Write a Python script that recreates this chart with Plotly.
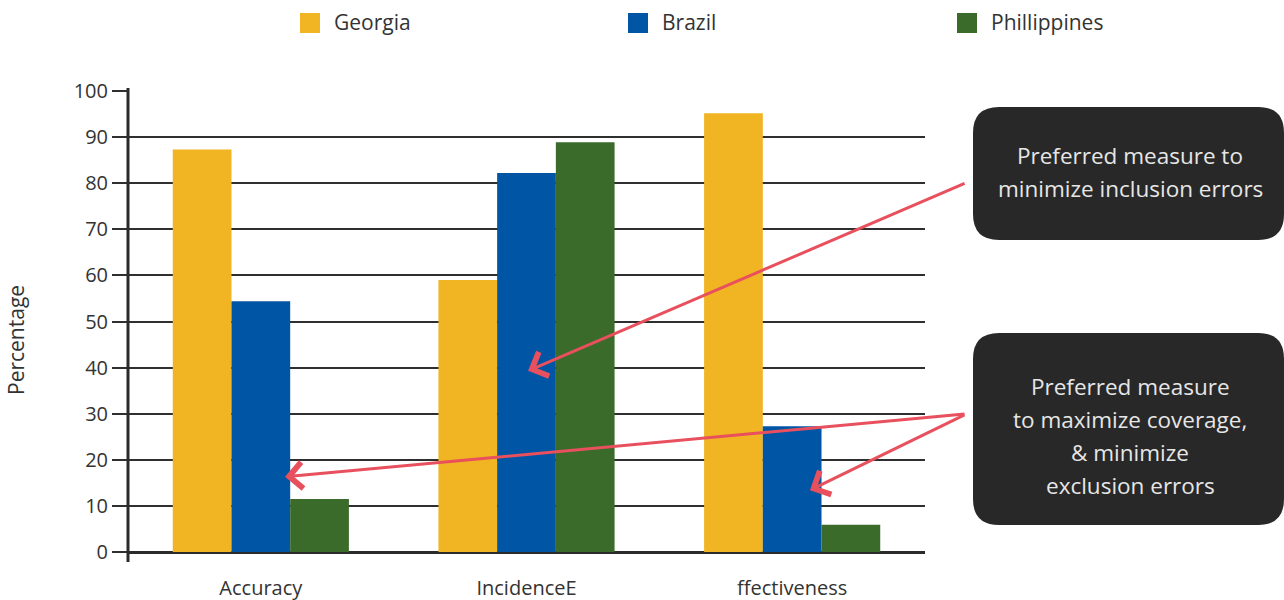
import plotly.graph_objects as go

# Survey results by targeting measure
categories = ["Accuracy", "IncidenceE", "ffectiveness"]
georgia = [87.3, 59.0, 95.2]
brazil = [54.4, 82.2, 27.3]
phillippines = [11.5, 88.9, 5.9]

series_names = ["Georgia", "Brazil", "Phillippines"]
series_colors = ["#F1B422", "#0055A4", "#3A6B2A"]
y_ticks = [0, 10, 20, 30, 40, 50, 60, 70, 80, 90, 100]

W, H = 1284, 600
L, R, T, B = 128, 359, 91, 48
PW, PH = W - L - R, H - T - B
FONT = "'Open Sans', 'Noto Sans', sans-serif"
TEXT = "#333333"


def px(x):
    return (x - L) / PW


def py(y):
    return (H - B - y) / PH


fig = go.Figure()
for name, vals, col in zip(series_names, [georgia, brazil, phillippines], series_colors):
    fig.add_trace(go.Bar(name=name, x=categories, y=vals, marker=dict(color=col, line=dict(width=0)),
                         showlegend=False))

shapes = []
annotations = []

# Legend built from squares and labels
legend_x = [300, 628, 957]
for name, col, lx in zip(series_names, series_colors, legend_x):
    shapes.append(dict(type="rect", xref="paper", yref="paper", x0=px(lx), x1=px(lx + 20),
                       y0=py(33), y1=py(13), fillcolor=col, line=dict(width=0)))
    annotations.append(dict(xref="paper", yref="paper", x=px(lx + 32), y=py(22), text=name,
                            showarrow=False, xanchor="left", yanchor="middle",
                            font=dict(family=FONT, size=21, color=TEXT)))

# Y-axis title
annotations.append(dict(xref="paper", yref="paper", x=px(16), y=py(340), text="Percentage",
                        textangle=-90, showarrow=False, xanchor="center", yanchor="middle",
                        font=dict(family=FONT, size=21, color=TEXT)))

# Vertical axis line extending slightly past the plot area
shapes.append(dict(type="line", xref="paper", yref="paper", x0=0, x1=0, y0=py(562), y1=py(88),
                   line=dict(color="#2b2b2b", width=3)))


def rounded_box(x0, y0, x1, y1, r):
    rx, ry = r / PW, r / PH
    a, b, c, d = px(x0), px(x1), py(y1), py(y0)  # left, right, bottom, top
    return (f"M{a + rx},{d} L{b - rx},{d} Q{b},{d} {b},{d - ry} L{b},{c + ry} Q{b},{c} {b - rx},{c} "
            f"L{a + rx},{c} Q{a},{c} {a},{c + ry} L{a},{d - ry} Q{a},{d} {a + rx},{d} Z")


box_fill = "#282828"
shapes.append(dict(type="path", xref="paper", yref="paper", path=rounded_box(973, 107, 1284, 240, 26),
                   fillcolor=box_fill, line=dict(width=0)))
shapes.append(dict(type="path", xref="paper", yref="paper", path=rounded_box(973, 333, 1284, 525, 26),
                   fillcolor=box_fill, line=dict(width=0)))

# Call-out text, one line per annotation so the line spacing is controlled
box_lines = [
    ("Preferred measure to", 155),
    ("minimize inclusion errors", 188),
    ("Preferred measure", 386),
    ("to maximize coverage,", 419),
    ("&amp; minimize", 452),
    ("exclusion errors", 485),
]
for txt, ly in box_lines:
    annotations.append(dict(xref="paper", yref="paper", x=px(1130), y=py(ly), text=txt,
                            showarrow=False, xanchor="center", yanchor="middle",
                            font=dict(family=FONT, size=22.5, color="#E6E6E6")))

# Arrows from the call-out boxes into the chart (tip in data units, tail offset in px)
arrow_col = "#E8505E"
arrows = [
    (1.006, 39.3, 438, -188),
    (0.091, 16.3, 681, -63),
    (2.067, 13.4, 156, -76),
]
for xt, yt, ax, ay in arrows:
    annotations.append(dict(x=xt, y=yt, xref="x", yref="y", ax=ax, ay=ay, text="", showarrow=True,
                            arrowhead=4, arrowsize=1.7, arrowwidth=3, arrowcolor=arrow_col,
                            standoff=0, startstandoff=0))

fig.update_layout(
    width=W, height=H,
    margin=dict(l=L, r=R, t=T, b=B, pad=0, autoexpand=False),
    paper_bgcolor="white", plot_bgcolor="white",
    barmode="group", bargap=0.337, bargroupgap=0,
    font=dict(family=FONT, color=TEXT),
    shapes=shapes, annotations=annotations,
    xaxis=dict(range=[-0.5, 2.5], showgrid=False, showline=False, zeroline=False, automargin=False,
               ticks="", tickfont=dict(family=FONT, size=20, color=TEXT), ticklabelstandoff=22),
    yaxis=dict(range=[0, 100], tickvals=y_ticks, showgrid=True, gridcolor="#2f2f2f", gridwidth=2,
               zeroline=True, zerolinecolor="#2b2b2b", zerolinewidth=3, showline=False,
               automargin=False,
               ticks="outside", ticklen=15, tickwidth=2, tickcolor="#2f2f2f",
               tickfont=dict(family=FONT, size=20, color=TEXT)),
)

fig.write_html("out.html")
